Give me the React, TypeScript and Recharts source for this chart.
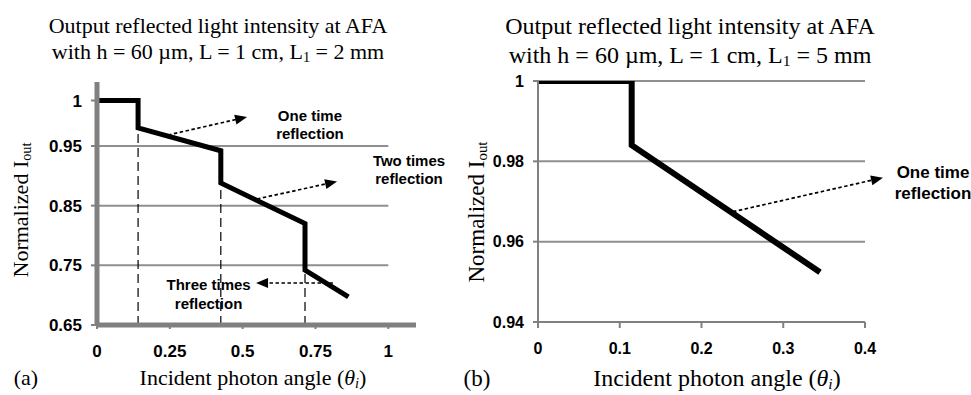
import React from "react";
import { LineChart, Line, XAxis, YAxis, CartesianGrid, ReferenceLine, ReferenceDot } from "recharts";

// (a) L1 = 2 mm
const anglesA = [0, 0.141, 0.141, 0.425, 0.425, 0.714, 0.714, 0.863];
const intensityA = [1, 1, 0.97, 0.942, 0.888, 0.82, 0.742, 0.697];
const xTicksA = [0, 0.25, 0.5, 0.75, 1];
const yTicksA = [0.65, 0.75, 0.85, 0.95, 1];
const gridA = [0.75, 0.85, 0.95];
const dropAnglesA = [0.141, 0.425, 0.714];
const dropLevelsA = [0.97, 0.888, 0.742];

// (b) L1 = 5 mm
const anglesB = [0, 0.1146, 0.1146, 0.345];
const intensityB = [1, 1, 0.984, 0.9524];
const xTicksB = [0, 0.1, 0.2, 0.3, 0.4];
const yTicksB = [0.94, 0.96, 0.98, 1];

// annotations: text anchor (first baseline) and dotted arrow, in data units
const notesA = [
  { lines: ["One time", "reflection"], at: [0.731, 0.9778], from: [0.2437, 0.9621], to: [0.515, 0.9819] },
  { lines: ["Two times", "reflection"], at: [1.071, 0.917], from: [0.549, 0.8612], to: [0.824, 0.8905] },
  { lines: ["Three times", "reflection"], at: [0.383, 0.7087], from: [0.81, 0.7204], to: [0.546, 0.7204] },
];
const notesB = [
  { lines: ["One time", "reflection"], at: [0.4832, 0.97585], from: [0.2385, 0.96746], to: [0.422, 0.97593] },
];

const dataA = anglesA.map((x, i) => ({ x, y: intensityA[i] }));
const dataB = anglesB.map((x, i) => ({ x, y: intensityB[i] }));

const AXIS = "#808080";
const GRID = "#8f8f8f";
const SANS = "Liberation Sans, Arial, sans-serif";
const SERIF = "Liberation Serif, Times New Roman, serif";

// the (a) value axis is not evenly spaced above 0.95, so a piecewise linear scale
function brokenScale(knots: number[], fracs: number[]) {
  const make = (d0: number[], r0: number[]): any => {
    let dom = d0.slice();
    let rng = r0.slice();
    const s: any = (v: number) => {
      let i = 0;
      while (i < knots.length - 2 && v > knots[i + 1]) i++;
      const t = fracs[i] + ((v - knots[i]) / (knots[i + 1] - knots[i])) * (fracs[i + 1] - fracs[i]);
      return rng[0] + t * (rng[rng.length - 1] - rng[0]);
    };
    s.domain = (d?: number[]) => {
      if (d === undefined) return dom.slice();
      dom = d.slice();
      return s;
    };
    s.range = (r?: number[]) => {
      if (r === undefined) return rng.slice();
      rng = r.slice();
      return s;
    };
    s.copy = () => make(dom, rng);
    s.ticks = () => knots.slice();
    s.tickFormat = () => (v: number) => String(v);
    return s;
  };
  return make([knots[0], knots[knots.length - 1]], [0, 1]);
}

const scaleA = brokenScale([0.65, 0.95, 1, 1.02], [0, 179 / 243, 224.5 / 243, 1]);

const arrowShape = (p: any) => {
  const { x1, y1, x2, y2 } = p;
  const a = Math.atan2(y2 - y1, x2 - x1);
  const len = 12;
  const half = 5;
  const bx = x2 - len * Math.cos(a);
  const by = y2 - len * Math.sin(a);
  const pts = [
    [x2, y2],
    [bx - half * Math.sin(a), by + half * Math.cos(a)],
    [bx + half * Math.sin(a), by - half * Math.cos(a)],
  ]
    .map((q) => q.join(","))
    .join(" ");
  return (
    <g>
      <line x1={x1} y1={y1} x2={bx + 2 * Math.cos(a)} y2={by + 2 * Math.sin(a)} stroke="#000" strokeWidth={1.7} strokeDasharray="3.5 2.5" />
      <polygon points={pts} fill="#000" />
    </g>
  );
};

const noteShape = (lines: string[], size: number, gap: number) => (p: any) => (
  <text x={p.cx} y={p.cy} textAnchor="middle" fontFamily={SANS} fontWeight="bold" fontSize={size} fill="#000">
    {lines.map((l, i) => (
      <tspan key={i} x={p.cx} dy={i === 0 ? 0 : gap}>
        {l}
      </tspan>
    ))}
  </text>
);

function PanelA() {
  return (
    <LineChart width={480} height={395} data={dataA} margin={{ top: 82, right: 64, bottom: 40, left: 0 }}>
      {gridA.map((g) => (
        <ReferenceLine
          key={g}
          segment={[{ x: 0, y: g }, { x: 1, y: g }]}
          stroke={GRID}
          strokeWidth={2}
          ifOverflow="visible"
        />
      ))}
      {dropAnglesA.map((x, i) => (
        <ReferenceLine
          key={"d" + x}
          segment={[{ x, y: 0.65 }, { x, y: dropLevelsA[i] }]}
          stroke="#000"
          strokeWidth={1.2}
          strokeDasharray="9 5"
          ifOverflow="visible"
        />
      ))}
      <XAxis
        type="number"
        dataKey="x"
        domain={[0, 1.095]}
        ticks={xTicksA}
        interval={0}
        allowDataOverflow
        height={30}
        axisLine={{ stroke: AXIS, strokeWidth: 5 }}
        tickLine={{ stroke: AXIS, strokeWidth: 2 }}
        tickSize={4}
        tickMargin={16}
        tick={{ fill: "#000", fontSize: 17, fontWeight: "bold", fontFamily: SANS }}
      />
      <YAxis
        type="number"
        dataKey="y"
        domain={[0.65, 1.02]}
        scale={scaleA}
        ticks={yTicksA}
        interval={0}
        allowDataOverflow
        width={97}
        axisLine={{ stroke: AXIS, strokeWidth: 5 }}
        tickLine={{ stroke: AXIS, strokeWidth: 2 }}
        tickSize={6}
        tickMargin={9}
        tick={{ fill: "#000", fontSize: 17, fontWeight: "bold", fontFamily: SANS }}
      />
      <Line
        type="linear"
        dataKey="y"
        stroke="#000"
        strokeWidth={5}
        dot={false}
        activeDot={false}
        isAnimationActive={false}
      />
      {notesA.map((n, i) => (
        <ReferenceLine
          key={"a" + i}
          segment={[{ x: n.from[0], y: n.from[1] }, { x: n.to[0], y: n.to[1] }]}
          shape={arrowShape}
          ifOverflow="visible"
        />
      ))}
      {notesA.map((n, i) => (
        <ReferenceDot
          key={"t" + i}
          x={n.at[0]}
          y={n.at[1]}
          r={0}
          ifOverflow="visible"
          shape={noteShape(n.lines, 15, 18.6)}
        />
      ))}
    </LineChart>
  );
}

function PanelB() {
  return (
    <LineChart width={491} height={395} data={dataB} margin={{ top: 81, right: 106, bottom: 43, left: 0 }}>
      <CartesianGrid vertical={false} stroke={GRID} strokeWidth={2} />
      <XAxis
        type="number"
        dataKey="x"
        domain={[0, 0.4]}
        ticks={xTicksB}
        interval={0}
        allowDataOverflow
        height={30}
        axisLine={{ stroke: AXIS, strokeWidth: 2 }}
        tickLine={{ stroke: AXIS, strokeWidth: 2 }}
        tickSize={6}
        tickMargin={15}
        tick={{ fill: "#000", fontSize: 16, fontWeight: "bold", fontFamily: SANS }}
      />
      <YAxis
        type="number"
        dataKey="y"
        domain={[0.94, 1]}
        ticks={yTicksB}
        interval={0}
        allowDataOverflow
        width={58}
        axisLine={{ stroke: AXIS, strokeWidth: 2 }}
        tickLine={{ stroke: AXIS, strokeWidth: 2 }}
        tickSize={5}
        tickMargin={9}
        tick={{ fill: "#000", fontSize: 16, fontWeight: "bold", fontFamily: SANS }}
      />
      <Line
        type="linear"
        dataKey="y"
        stroke="#000"
        strokeWidth={6}
        dot={false}
        activeDot={false}
        isAnimationActive={false}
      />
      {notesB.map((n, i) => (
        <ReferenceLine
          key={"a" + i}
          segment={[{ x: n.from[0], y: n.from[1] }, { x: n.to[0], y: n.to[1] }]}
          shape={arrowShape}
          ifOverflow="visible"
        />
      ))}
      {notesB.map((n, i) => (
        <ReferenceDot
          key={"t" + i}
          x={n.at[0]}
          y={n.at[1]}
          r={0}
          ifOverflow="visible"
          shape={noteShape(n.lines, 17, 20.5)}
        />
      ))}
    </LineChart>
  );
}

function Title({ cx, y1, y2, size, l1 }: { cx: number; y1: number; y2: number; size: number; l1: string }) {
  return (
    <text textAnchor="middle" fontFamily={SERIF} fontSize={size} fill="#000">
      <tspan x={cx} y={y1}>Output reflected light intensity at AFA</tspan>
      <tspan x={cx} y={y2}>
        with h = 60 µm, L = 1 cm, L
        <tspan baselineShift="-18%" fontSize={size * 0.65}>1</tspan>
        {" = " + l1 + " mm"}
      </tspan>
    </text>
  );
}

function AngleLabel({ cx, y, size }: { cx: number; y: number; size: number }) {
  return (
    <text x={cx} y={y} textAnchor="middle" fontFamily={SERIF} fontSize={size} fill="#000">
      Incident photon angle (<tspan fontStyle="italic">θ</tspan>
      <tspan fontStyle="italic" baselineShift="-18%" fontSize={size * 0.65}>i</tspan>)
    </text>
  );
}

function IntensityLabel({ x, cy, size }: { x: number; cy: number; size: number }) {
  return (
    <text
      transform={`translate(${x},${cy}) rotate(-90)`}
      textAnchor="middle"
      fontFamily={SERIF}
      fontSize={size}
      fill="#000"
    >
      Normalized I<tspan baselineShift="-18%" fontSize={size * 0.65}>out</tspan>
    </text>
  );
}

export default function App() {
  return (
    <div style={{ position: "absolute", left: 0, top: 0, width: 971, height: 395, background: "#fff" }}>
      <div style={{ position: "absolute", left: 0, top: 0 }}>
        <PanelA />
      </div>
      <div style={{ position: "absolute", left: 480, top: 0 }}>
        <PanelB />
      </div>
      <svg
        width={971}
        height={395}
        style={{ position: "absolute", left: 0, top: 0, pointerEvents: "none" }}
      >
        <Title cx={218} y1={33.3} y2={59.3} size={22} l1="2" />
        <Title cx={690} y1={34} y2={62.7} size={24} l1="5" />
        <AngleLabel cx={253} y={385} size={22} />
        <AngleLabel cx={717} y={385.5} size={24} />
        <IntensityLabel x={28} cy={210} size={22} />
        <IntensityLabel x={484} cy={212} size={23} />
        <text x={26} y={385} textAnchor="middle" fontFamily={SERIF} fontSize={22} fill="#000">
          (a)
        </text>
        <text x={477} y={385.5} textAnchor="middle" fontFamily={SERIF} fontSize={23} fill="#000">
          (b)
        </text>
      </svg>
    </div>
  );
}
